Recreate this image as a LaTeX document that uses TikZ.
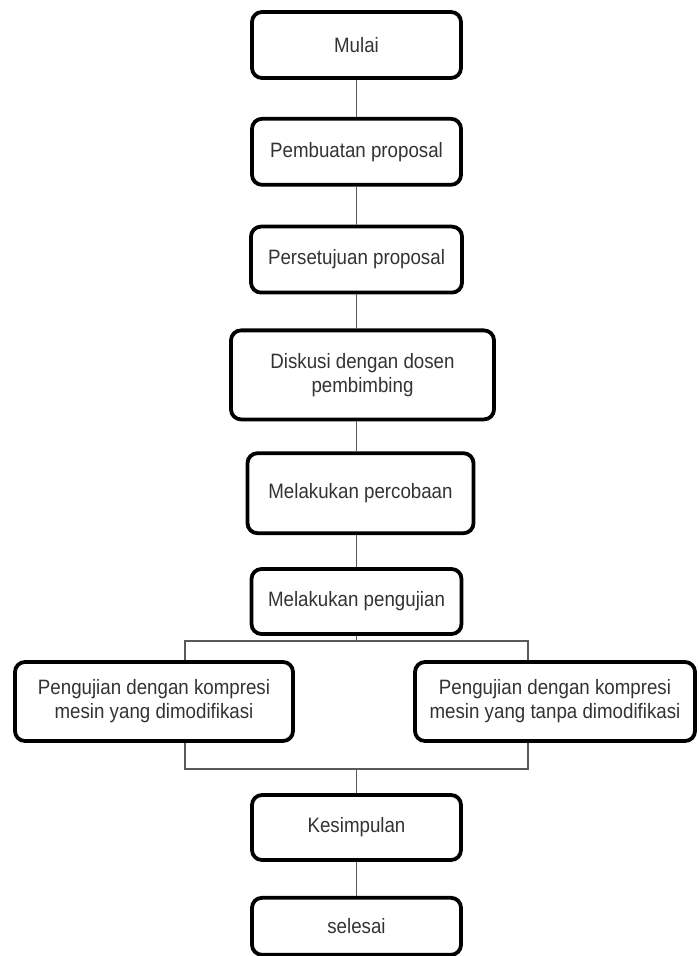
\documentclass[tikz,border=0pt]{standalone}
\usepackage{fontspec}
\setmainfont{Liberation Sans}[FakeStretch=0.9]
\usetikzlibrary{positioning, calc}

\tikzset{
  stepbox/.style={draw=black, line width=1.9pt, rounded corners=5pt, fill=white,
    align=center, minimum width=104.5pt, minimum height=33pt, inner sep=2pt,
    text=black!80, font=\fontsize{10.4}{12}\selectfont},
  conn/.style={draw=black!65, line width=0.75pt},
}

\begin{document}
\begin{tikzpicture}[node distance=16pt]
  \fill[white] (0,0) rectangle (349.5pt,-478pt);
  \useasboundingbox (0,0) rectangle (349.5pt,-478pt);
  % main column
  \node[stepbox] (mulai) at (178.25pt,-22.5pt) {Mulai};
  \node[stepbox, below=18.5pt of mulai] (buat) {Pembuatan proposal};
  \node[stepbox, below=19pt of buat, minimum width=105.5pt] (setuju) {Persetujuan proposal};
  \node[stepbox, below=17pt of setuju, xshift=3pt, minimum width=131.5pt, minimum height=44.5pt] (diskusi) {Diskusi dengan dosen\\pembimbing};
  \node[stepbox, below=15pt of diskusi, xshift=-1pt, minimum width=113pt, minimum height=40pt] (coba) {Melakukan percobaan};
  \node[stepbox, below=16pt of coba, xshift=-2pt, minimum width=105pt, minimum height=32.5pt] (uji) {Melakukan pengujian};
  % two tests
  \node[stepbox, minimum width=139pt, minimum height=39.5pt] (modif) at (77pt,-350.75pt) {Pengujian dengan kompresi\\mesin yang dimodifikasi};
  \node[stepbox, minimum width=140pt, minimum height=39.5pt] (tanpa) at (277.5pt,-350.75pt) {Pengujian dengan kompresi\\mesin yang tanpa dimodifikasi};
  \node[stepbox, minimum height=32.5pt] (simpul) at (178.25pt,-413.75pt) {Kesimpulan};
  \node[stepbox, below=17pt of simpul, minimum height=28.5pt] (selesai) {selesai};
  % branch points
  \coordinate (splitL) at (92.5pt,-320.5pt);
  \coordinate (splitR) at (264pt,-320.5pt);
  \coordinate (joinL) at (92.5pt,-384.5pt);
  \coordinate (joinR) at (264pt,-384.5pt);
  % connectors
  \draw[conn] (mulai) -- (buat);
  \draw[conn] (buat) -- (setuju);
  \draw[conn] (setuju.south) -- (setuju.south |- diskusi.north);
  \draw[conn] (diskusi.south -| setuju.south) -- (setuju.south |- coba.north);
  \draw[conn] (coba.south -| setuju.south) -- (setuju.south |- uji.north);
  \draw[conn] (uji.south -| setuju.south) -- (splitL -| setuju.south);
  \draw[conn] (modif.north -| splitL) -- (splitL) -- (splitR) -- (tanpa.north -| splitR);
  \draw[conn] (modif.south -| joinL) -- (joinL) -- (joinR) -- (tanpa.south -| joinR);
  \draw[conn] (joinL -| simpul) -- (simpul);
  \draw[conn] (simpul) -- (selesai);
\end{tikzpicture}
\end{document}
